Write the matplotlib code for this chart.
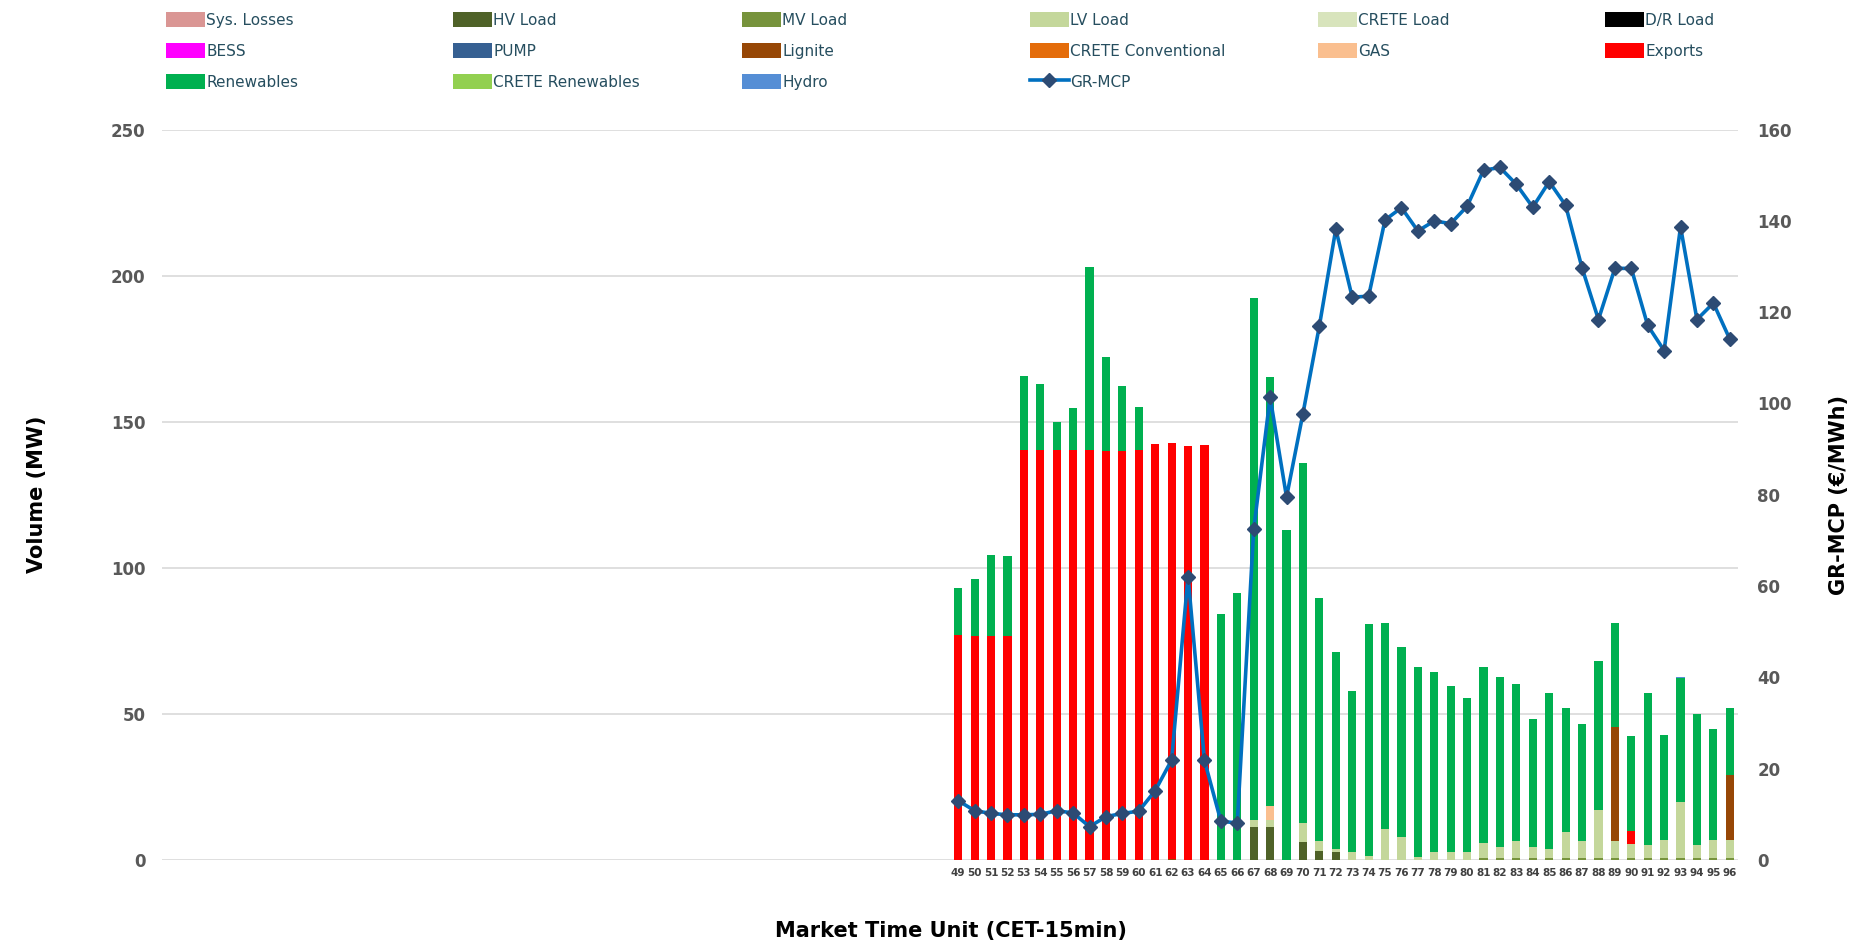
import matplotlib.pyplot as plt
import numpy as np
from matplotlib.patches import Patch
from matplotlib.lines import Line2D

# market time units shown (the first 48 of the day are empty)
mtu = np.arange(49, 97)

hv_load = np.array([0]*18 + [11.4, 11.4, 0, 6.3, 3.2, 2.9] + [0]*24)
mv_load = np.array([0]*32 + [0.6]*16)
lv_load = np.array([0]*18 + [2.2, 2.2, 0, 6.3, 3.3, 0.8, 2.6, 1.4, 10.6, 8.0, 1.0, 2.7, 2.7, 2.6,
                    5.2, 3.7, 5.9, 3.7, 3.3, 9.1, 5.9, 16.4, 5.9, 4.8, 4.7, 6.4, 19.1, 4.7, 6.2, 6.2])
lignite = np.array([0]*5 + [0.5] + [0]*7 + [0.5] + [0]*26 + [39.1, 0, 0, 0, 0, 0, 0, 22.3])
gas = np.array([0]*19 + [4.9] + [0]*28)
exports = np.array([77.1, 76.8, 76.6, 76.8, 140.3, 139.8, 140.3, 140.3, 140.3, 139.9, 139.9, 140.3,
                    142.5, 142.2, 141.6, 142.2] + [0]*25 + [4.5] + [0]*6)
totals = np.array([93.0, 96.2, 104.5, 104.2, 165.6, 162.9, 150.0, 154.6, 203.1, 172.1, 162.2, 155.1,
                   142.5, 142.7, 141.6, 142.2, 84.3, 91.4, 192.5, 165.4, 112.8, 136.0, 89.7, 71.1,
                   57.9, 80.8, 81.2, 72.8, 65.9, 64.3, 59.6, 55.5, 65.9, 62.5, 60.4, 48.2,
                   57.0, 51.9, 46.5, 68.2, 81.2, 42.4, 57.0, 42.9, 62.8, 49.9, 44.8, 51.9])
hydro = np.array([0]*44 + [0.4, 0, 0, 0])
renewables = totals - hv_load - mv_load - lv_load - lignite - gas - exports - hydro

gr_mcp = [13.0, 10.8, 10.2, 9.9, 9.9, 10.0, 10.8, 10.3, 7.3, 9.5, 10.2, 10.7, 15.2, 21.9, 62.1, 21.8,
          8.5, 8.1, 72.4, 101.4, 79.5, 97.8, 117.0, 138.2, 123.3, 123.5, 140.2, 142.9, 137.8, 140.0,
          139.4, 143.2, 151.1, 151.7, 148.0, 143.0, 148.6, 143.4, 129.7, 118.4, 129.6, 129.6,
          117.1, 111.6, 138.7, 118.4, 122.0, 114.1]

zero = np.zeros(48)
series = [
    ("Sys. Losses", zero, "#DA9694"),
    ("HV Load", hv_load, "#4F6228"),
    ("MV Load", mv_load, "#77933C"),
    ("LV Load", lv_load, "#C4D79B"),
    ("CRETE Load", zero, "#D8E4BC"),
    ("D/R Load", zero, "#000000"),
    ("BESS", zero, "#FF00FF"),
    ("PUMP", zero, "#366092"),
    ("Lignite", lignite, "#974706"),
    ("CRETE Conventional", zero, "#E46C0A"),
    ("GAS", gas, "#FABF8F"),
    ("Exports", exports, "#FF0000"),
    ("Renewables", renewables, "#00B050"),
    ("CRETE Renewables", zero, "#92D050"),
    ("Hydro", hydro, "#558ED5"),
]

W, H = 1857, 947
fig = plt.figure(figsize=(W/100, H/100), dpi=100)
ax = fig.add_axes([162/W, 1-860/H, (1738-162)/W, (860-129.6)/H])

bottom = np.zeros(48)
for name, vals, col in series:
    ax.bar(mtu, vals, width=0.5, bottom=bottom, color=col, zorder=2)
    bottom = bottom + vals

ax.set_xlim(0.5, 96.5)
ax.set_ylim(0, 250)
ax.set_yticks(range(0, 251, 50))
ax.set_xticks(mtu)
ax.set_xticklabels([str(m) for m in mtu], fontsize=7.5, color="#404040", fontweight="bold")
ax.grid(axis="y", color="#D9D9D9", linewidth=1.2, zorder=0)
ax.set_axisbelow(True)
for s in ax.spines.values():
    s.set_visible(False)
ax.tick_params(axis="x", length=0, pad=6)
ax.tick_params(axis="y", length=0, pad=12, labelsize=12, labelcolor="#595959")
for t in ax.get_yticklabels():
    t.set_fontweight("bold")

ax.set_ylabel("Volume (MW)", fontsize=15, fontweight="bold")
ax.yaxis.set_label_coords(-0.073, 0.5)
ax.set_xlabel("Market Time Unit (CET-15min)", fontsize=15, fontweight="bold")
ax.xaxis.set_label_coords(0.5006, -0.084)

ax2 = ax.twinx()
ax2.plot(mtu, gr_mcp, color="#0070C0", linewidth=2.6, marker="D", markersize=7.5,
         markerfacecolor="#2D4B74", markeredgecolor="#2D4B74", zorder=3)
ax2.set_ylim(0, 160)
ax2.set_yticks(range(0, 161, 20))
for s in ax2.spines.values():
    s.set_visible(False)
ax2.tick_params(axis="y", length=0, pad=14, labelsize=12, labelcolor="#595959")
for t in ax2.get_yticklabels():
    t.set_fontweight("bold")
ax2.set_ylabel("GR-MCP (€/MWh)", fontsize=15, fontweight="bold")
ax2.yaxis.set_label_coords(1.058, 0.5)

# legend, laid out row by row in 6 columns
handles = [Patch(facecolor=c, edgecolor="none") for _, _, c in series]
labels = [n for n, _, _ in series]
handles.append(Line2D([], [], color="#0070C0", linewidth=2.6, marker="D", markersize=7.5,
                      markerfacecolor="#2D4B74", markeredgecolor="#2D4B74"))
labels.append("GR-MCP")
col_x = [166, 453, 742, 1030, 1318, 1605]
for c in range(6):
    idx = [i for i in range(c, len(labels), 6)]
    fig.legend([handles[i] for i in idx], [labels[i] for i in idx],
               loc="upper left", bbox_to_anchor=(col_x[c]/W, 1-12/H),
               frameon=False, fontsize=11, handlelength=2.55, handleheight=1.15,
               handletextpad=0.1, labelspacing=1.0, borderpad=0, borderaxespad=0,
               labelcolor="#264E5F")

fig.savefig("out.png", dpi=100)
